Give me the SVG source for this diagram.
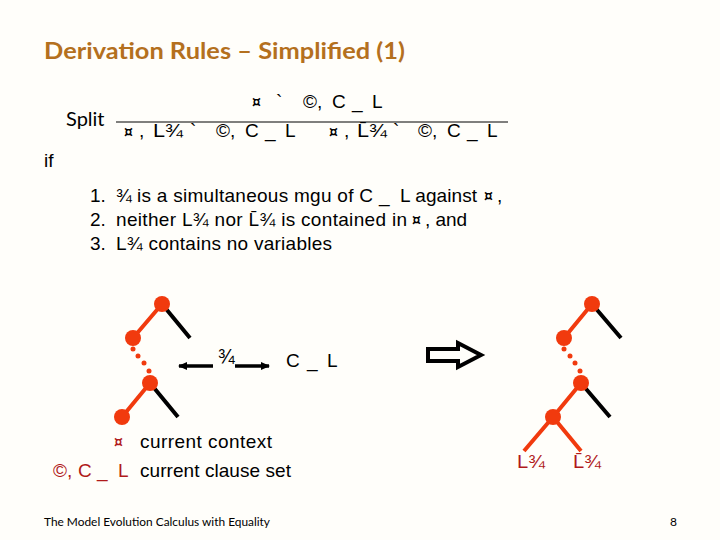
<svg xmlns="http://www.w3.org/2000/svg" width="720" height="540" viewBox="0 0 720 540">
<style>
text{font-family:"Liberation Sans",Arial,sans-serif;font-size:19px;fill:#000}
.c{font-family:Lato,"Open Sans",sans-serif}
.t{font-size:22px;font-weight:700;fill:#b4701e}
.s{font-size:20px}
.m{font-family:"DejaVu Sans",sans-serif;font-size:14px;font-weight:700}
.r{fill:#b01a1a}
.red{stroke:#f13a0e;stroke-width:4;fill:none}
.blk{stroke:#000;stroke-width:4;fill:none}
.n{fill:#f13a0e}
</style>
<defs>
<marker id="a" markerWidth="9" markerHeight="8" refX="8" refY="4" orient="auto-start-reverse" markerUnits="userSpaceOnUse"><path d="M0 0L9 4L0 8z" fill="#000"/></marker>
</defs>
<rect width="720" height="540" fill="#fffefa"/>
<text class="c t" x="44" y="59" textLength="361" lengthAdjust="spacingAndGlyphs">Derivation Rules – Simplified (1)</text>
<text class="c s" x="66" y="126">Split</text>
<line x1="116" y1="122" x2="508" y2="122" stroke="#000" stroke-width="1"/>
<g id="rule">
<text x="252" y="107" class="m">¤</text><text x="276" y="108">`</text><text x="303" y="108">©,</text><text x="332" y="108">C</text><text x="352" y="108">_</text><text x="372" y="108">L</text>
<text x="124" y="137" class="m">¤</text><text x="139" y="137">,</text><text x="153" y="137" textLength="30" lengthAdjust="spacingAndGlyphs">L¾</text><text x="190" y="137">`</text><text x="216" y="137">©,</text><text x="245" y="137">C</text><text x="265" y="137">_</text><text x="285" y="137">L</text>
<text x="329" y="137" class="m">¤</text><text x="344" y="137">,</text><text x="357" y="137" textLength="30" lengthAdjust="spacingAndGlyphs">L̄¾</text><text x="393" y="137">`</text><text x="418" y="137">©,</text><text x="447" y="137">C</text><text x="467" y="137">_</text><text x="487" y="137">L</text>
</g>
<text x="44" y="167">if</text>
<text x="90" y="202">1.</text><text x="116" y="202">¾</text><text x="137" y="202" textLength="236">is a simultaneous mgu of C</text><text x="379" y="202">_</text><text x="400" y="202" textLength="77">L against</text><text x="484" y="201" class="m">¤</text><text x="497" y="202">,</text>
<text x="90" y="226">2.</text><text x="116" y="226" textLength="291">neither L¾ nor L̄¾ is contained in</text><text x="412" y="225" class="m">¤</text><text x="425" y="226" textLength="42">, and</text>
<text x="90" y="250">3.</text><text x="116" y="250" textLength="216">L¾ contains no variables</text>
<g id="connectors">
<path class="red" d="M162 304L133 338M150 383L122 417M592 304L564 338M581 383L553 417L524 451M553 417L581 451"/>
<path class="blk" d="M162 304L190 338M150 383L178 417M592 304L621 338M581 383L610 417"/>
<line x1="213" y1="366" x2="179" y2="366" stroke="#000" stroke-width="3.5" marker-end="url(#a)"/>
<line x1="235" y1="366" x2="269" y2="366" stroke="#000" stroke-width="3.5" marker-end="url(#a)"/>
<path d="M428 349H458V343L481 355L458 367V361H428z" fill="#fffefa" stroke="#000" stroke-width="4"/>
</g>
<g id="tree-left" class="n">
<circle cx="162" cy="304" r="8"/><circle cx="133" cy="338" r="8"/><circle cx="150" cy="383" r="8"/><circle cx="122" cy="417" r="8"/>
<circle cx="133" cy="349" r="2.5"/><circle cx="138" cy="356" r="2.5"/><circle cx="144" cy="363" r="2.5"/><circle cx="149" cy="371" r="2.5"/>
</g>
<g id="tree-right" class="n">
<circle cx="592" cy="304" r="8"/><circle cx="564" cy="338" r="8"/><circle cx="581" cy="383" r="8"/><circle cx="553" cy="417" r="8"/>
<circle cx="564" cy="349" r="2.5"/><circle cx="570" cy="356" r="2.5"/><circle cx="575" cy="363" r="2.5"/><circle cx="580" cy="371" r="2.5"/>
</g>
<text x="218" y="363" style="font-size:20px">¾</text>
<text x="286" y="367">C</text><text x="307" y="367">_</text><text x="327" y="367">L</text>
<text x="114" y="447" class="m r">¤</text><text x="140" y="448" textLength="132">current context</text>
<text x="53" y="477" class="r">©,</text><text x="78" y="477" class="r">C</text><text x="97" y="477" class="r">_</text><text x="118" y="477" class="r">L</text><text x="140" y="477" textLength="151">current clause set</text>
<text x="517" y="468" class="r" textLength="28" lengthAdjust="spacingAndGlyphs">L¾</text><text x="573" y="468" class="r" textLength="28" lengthAdjust="spacingAndGlyphs">L̄¾</text>
<text class="c" x="44" y="526" style="font-size:12px" textLength="226" lengthAdjust="spacingAndGlyphs">The Model Evolution Calculus with Equality</text>
<text class="c" x="670" y="526" style="font-size:12px">8</text>
</svg>
